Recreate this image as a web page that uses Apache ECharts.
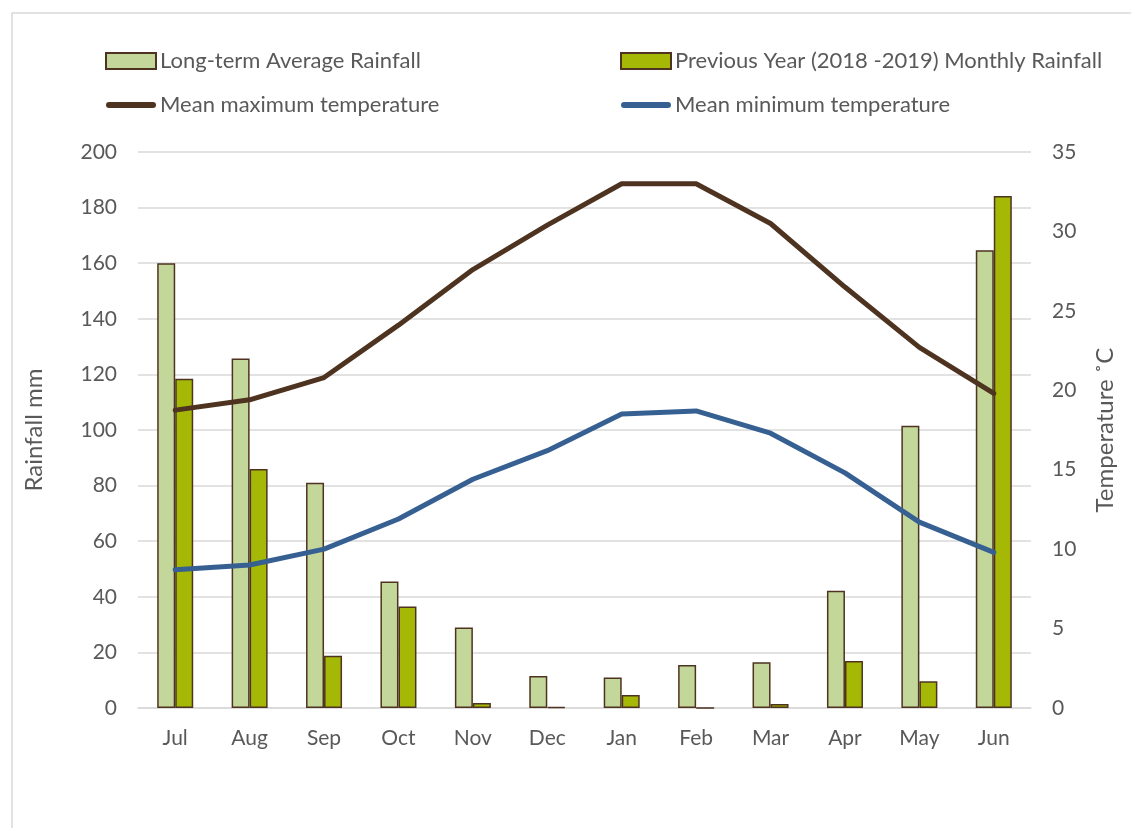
<!DOCTYPE html>
<html>
<head>
<meta charset="utf-8">
<script src="https://cdn.jsdelivr.net/npm/echarts@6/dist/echarts.min.js"></script>
<style>
  html, body { margin: 0; padding: 0; background: #fff; }
  #chart { width: 1131px; height: 828px; }
</style>
</head>
<body>
<div id="chart"></div>
<script>
// 数据
const months = ['Jul', 'Aug', 'Sep', 'Oct', 'Nov', 'Dec', 'Jan', 'Feb', 'Mar', 'Apr', 'May', 'Jun'];
const avgRain = [160, 125.7, 81, 45.5, 29, 11.5, 11, 15.5, 16.5, 42.2, 101.5, 164.7];
const prevRain = [118.4, 86, 18.8, 36.5, 1.8, 0.3, 4.7, 0, 1.4, 16.9, 9.6, 184.2];
const maxTemp = [18.75, 19.4, 20.8, 24.1, 27.6, 30.4, 33.0, 33.0, 30.5, 26.5, 22.7, 19.8];
const minTemp = [8.7, 9.0, 10.0, 11.9, 14.4, 16.2, 18.5, 18.7, 17.3, 14.8, 11.7, 9.8];

const FONT = 'Lato, "Noto Sans", sans-serif';
const TXT = '#595959';
const BORDER = '#4e3320';
const LINE_ICON = 'path://M3,0 h44 a3,3 0 0 1 0,6 h-44 a3,3 0 0 1 0,-6 z';

const chart = echarts.init(document.getElementById('chart'));

// 图例文字样式
const legendText = { fontFamily: FONT, fontSize: 22, color: TXT, padding: [0, 0, 0, -1] };

const option = {
    backgroundColor: '#fff',
    textStyle: { fontFamily: FONT },
    graphic: [{
        type: 'rect',
        shape: { x: 12, y: 13, width: 1200, height: 900 },
        style: { fill: 'none', stroke: '#d9d9d9', lineWidth: 1.5 },
        silent: true
    }],
    legend: [{
        left: 105,
        top: 50,
        padding: 0,
        orient: 'vertical',
        itemGap: 22,
        itemWidth: 50,
        itemHeight: 16,
        textStyle: legendText,
        data: [{ name: 'Long-term Average Rainfall', icon: 'rect' }, { name: 'Mean maximum temperature', icon: LINE_ICON }]
    }, {
        left: 620,
        top: 50,
        padding: 0,
        orient: 'vertical',
        itemGap: 22,
        itemWidth: 50,
        itemHeight: 16,
        textStyle: legendText,
        data: [{ name: 'Previous Year (2018 -2019) Monthly Rainfall', icon: 'rect' }, { name: 'Mean minimum temperature', icon: LINE_ICON }]
    }],
    grid: { left: 138, right: 100, top: 152, bottom: 120 },
    xAxis: {
        type: 'category',
        data: months,
        axisLine: { lineStyle: { color: '#d9d9d9', width: 1.5 } },
        axisTick: { show: false },
        axisLabel: { fontSize: 21, color: TXT, margin: 20, fontFamily: FONT }
    },
    yAxis: [{
        type: 'value',
        min: 0,
        max: 200,
        interval: 20,
        name: 'Rainfall mm',
        nameLocation: 'middle',
        nameGap: 92,
        nameTextStyle: { fontSize: 24, color: TXT, fontFamily: FONT },
        axisLabel: { fontSize: 21, color: TXT, margin: 21, fontFamily: FONT },
        axisLine: { show: false },
        axisTick: { show: false },
        splitLine: { lineStyle: { color: '#d9d9d9', width: 1.5 } }
    }, {
        type: 'value',
        min: 0,
        max: 35,
        interval: 5,
        name: 'Temperature ˚C',
        nameLocation: 'middle',
        nameGap: 62,
        nameRotate: 90,
        nameTextStyle: { fontSize: 24, color: TXT, fontFamily: FONT },
        axisLabel: { fontSize: 21, color: TXT, margin: 21, fontFamily: FONT },
        axisLine: { show: false },
        axisTick: { show: false },
        splitLine: { show: false }
    }],
    series: [{
        name: 'Long-term Average Rainfall',
        type: 'bar',
        data: avgRain,
        barWidth: 18,
        barGap: '0%',
        itemStyle: { color: '#c4d79b', borderColor: BORDER, borderWidth: 1.5 }
    }, {
        name: 'Previous Year (2018 -2019) Monthly Rainfall',
        type: 'bar',
        data: prevRain,
        barWidth: 18,
        barGap: '0%',
        itemStyle: { color: '#a5b806', borderColor: BORDER, borderWidth: 1.5 }
    }, {
        name: 'Mean maximum temperature',
        type: 'line',
        yAxisIndex: 1,
        data: maxTemp,
        symbol: 'none',
        lineStyle: { color: BORDER, width: 5, cap: 'round' },
        itemStyle: { color: BORDER }
    }, {
        name: 'Mean minimum temperature',
        type: 'line',
        yAxisIndex: 1,
        data: minTemp,
        symbol: 'none',
        lineStyle: { color: '#376092', width: 5, cap: 'round' },
        itemStyle: { color: '#376092' }
    }]
};

chart.setOption(option);
</script>
</body>
</html>
